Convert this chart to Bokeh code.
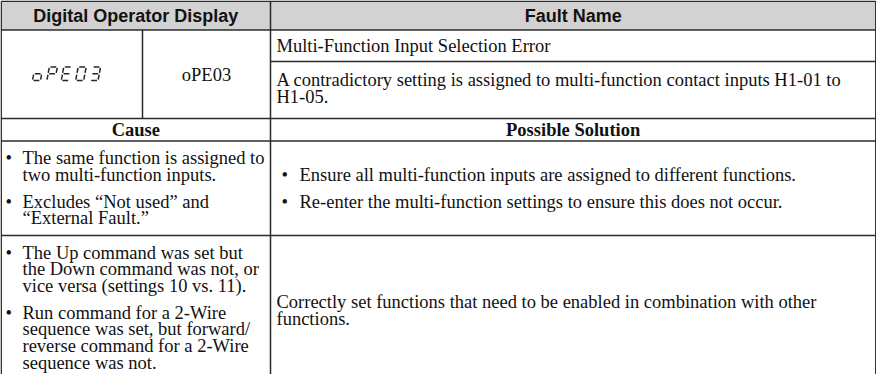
from bokeh.plotting import figure
from bokeh.models import Range1d
from bokeh.core.properties import value
from bokeh.embed import file_html
from bokeh.resources import INLINE

# ---------------- content ----------------
header_labels = ["Digital Operator Display", "Fault Name"]
display_code = "oPE03"          # shown as 7-segment LCD characters
fault_code = "oPE03"
fault_name = "Multi-Function Input Selection Error"
fault_description = [
    "A contradictory setting is assigned to multi-function contact inputs H1-01 to",
    "H1-05.",
]
section_labels = ["Cause", "Possible Solution"]
causes_1 = [
    ["The same function is assigned to", "two multi-function inputs."],
    ["Excludes \u201cNot used\u201d and", "\u201cExternal Fault.\u201d"],
]
solutions_1 = [
    "Ensure all multi-function inputs are assigned to different functions.",
    "Re-enter the multi-function settings to ensure this does not occur.",
]
causes_2 = [
    ["The Up command was set but", "the Down command was not, or",
     "vice versa (settings 10 vs. 11)."],
    ["Run command for a 2-Wire", "sequence was set, but forward/",
     "reverse command for a 2-Wire", "sequence was not."],
]
solution_2 = [
    "Correctly set functions that need to be enabled in combination with other",
    "functions.",
]

# ---------------- layout (page pixels) ----------------
W, H = 876, 374
X0, Y0 = 8, 8
LEFT, RIGHT = 8.7, 883.3
SUB_SPLIT, COL_SPLIT = 150, 278
TOP, HEAD_B, NAME_B, ROW1_B, SEC_B, ROW2_B, BOTTOM = 8.7, 37.5, 69, 126, 148.5, 243, 400
LH, GAP, PAD = 16.7, 10, 8.8
SERIF = value("Liberation Serif")
SANS = value("Liberation Sans")
FS = "18.5px"
HFS = "18px"
INK = "#111111"
LINE = "#2b2b2b"

p = figure(width=W, height=H, x_range=Range1d(X0, X0 + W), y_range=Range1d(Y0 + H, Y0),
           output_backend="svg", toolbar_location=None, x_axis_type=None, y_axis_type=None,
           min_border=0, min_border_left=0, min_border_right=0, min_border_top=0,
           min_border_bottom=0, background_fill_color="white", border_fill_color="white")
p.outline_line_color = None
p.xgrid.visible = False
p.ygrid.visible = False

# header background
p.quad(left=[LEFT], right=[RIGHT], top=[TOP], bottom=[HEAD_B], fill_color="#d2d2d2", line_color=None)

# grid lines
hx0 = [LEFT, LEFT, COL_SPLIT, LEFT, LEFT, LEFT]
hx1 = [RIGHT] * 6
hy = [TOP, HEAD_B, NAME_B, ROW1_B, SEC_B, ROW2_B]
p.segment(x0=hx0, y0=hy, x1=hx1, y1=hy, line_color=LINE, line_width=1.5)
vx = [LEFT, RIGHT, COL_SPLIT, SUB_SPLIT]
vy0 = [TOP, TOP, TOP, HEAD_B]
vy1 = [BOTTOM, BOTTOM, BOTTOM, ROW1_B]
p.segment(x0=vx, y0=vy0, x1=vx, y1=vy1, line_color=LINE, line_width=1.5)

# header texts
p.text(x=[(LEFT + COL_SPLIT) / 2, (COL_SPLIT + RIGHT) / 2], y=[(TOP + HEAD_B) / 2 + 0.5] * 2,
       text=header_labels, text_font=SANS, text_font_style="bold", text_font_size=HFS,
       text_align="center", text_baseline="middle", text_color=INK)

# 7-segment LCD rendering of the display code
SEGS = {
    "a": ((0.14, 1.0), (0.86, 1.0)), "b": ((1.0, 0.94), (1.0, 0.56)),
    "c": ((1.0, 0.44), (1.0, 0.06)), "d": ((0.14, 0.0), (0.86, 0.0)),
    "e": ((0.0, 0.06), (0.0, 0.44)), "f": ((0.0, 0.56), (0.0, 0.94)),
    "g": ((0.14, 0.5), (0.86, 0.5)),
}
CHARMAP = {"o": "cdeg", "P": "abefg", "E": "adefg", "0": "abcdef", "3": "abcdg"}
gw, gh, slant, pitch = 8.0, 13.5, 0.18, 14.4
gx0, gybot = 40.0, 88.0
xs, ys = [], []
for i, ch in enumerate(display_code):
    for s in CHARMAP[ch]:
        (u0, v0), (u1, v1) = SEGS[s]
        xs.append([gx0 + i * pitch + u0 * gw + slant * v0 * gh, gx0 + i * pitch + u1 * gw + slant * v1 * gh])
        ys.append([gybot - v0 * gh, gybot - v1 * gh])
p.multi_line(xs=xs, ys=ys, line_color="#262626", line_width=1.5)

# fault code text
p.text(x=[(SUB_SPLIT + COL_SPLIT) / 2], y=[(HEAD_B + ROW1_B) / 2 + 0.5], text=[fault_code],
       text_font=SERIF, text_font_size=FS, text_align="center", text_baseline="middle", text_color=INK)

TX = COL_SPLIT + 6
p.text(x=[TX], y=[(HEAD_B + NAME_B) / 2 + 0.5], text=[fault_name], text_font=SERIF,
       text_font_size=FS, text_baseline="middle", text_color=INK)
mid = (NAME_B + ROW1_B) / 2 - 1.2
p.text(x=[TX] * len(fault_description),
       y=[mid - LH * (len(fault_description) - 1) / 2 + LH * k for k in range(len(fault_description))],
       text=fault_description, text_font=SERIF, text_font_size=FS, text_baseline="middle", text_color=INK)

# section labels
p.text(x=[(LEFT + COL_SPLIT) / 2, (COL_SPLIT + RIGHT) / 2], y=[(ROW1_B + SEC_B) / 2 + 0.5] * 2,
       text=section_labels, text_font=SERIF, text_font_style="bold", text_font_size=FS,
       text_align="center", text_baseline="middle", text_color=INK)


def bullet_block(groups, x_bullet, x_text, y_first):
    bx, by, tx, ty, tt = [], [], [], [], []
    y = y_first
    for g in groups:
        bx.append(x_bullet)
        by.append(y)
        for line in g:
            tx.append(x_text)
            ty.append(y)
            tt.append(line)
            y += LH
        y += GAP
    p.text(x=bx, y=by, text=["\u2022"] * len(bx), text_font=SERIF, text_font_size=FS,
           text_baseline="middle", text_color=INK)
    p.text(x=tx, y=ty, text=tt, text_font=SERIF, text_font_size=FS,
           text_baseline="middle", text_color=INK)


# row 2
bullet_block(causes_1, 13, 30, SEC_B + PAD + LH / 2)
n = len(solutions_1)
span = (n - 1) * (LH + GAP)
bullet_block([[s] for s in solutions_1], 289, 307, (SEC_B + ROW2_B) / 2 - span / 2)

# row 3
bullet_block(causes_2, 13, 30, ROW2_B + PAD + LH / 2)
row3_mid = 318
p.text(x=[TX] * len(solution_2),
       y=[row3_mid - LH * (len(solution_2) - 1) / 2 + LH * k for k in range(len(solution_2))],
       text=solution_2, text_font=SERIF, text_font_size=FS, text_baseline="middle", text_color=INK)

open("out.html", "w").write(file_html(p, INLINE))
